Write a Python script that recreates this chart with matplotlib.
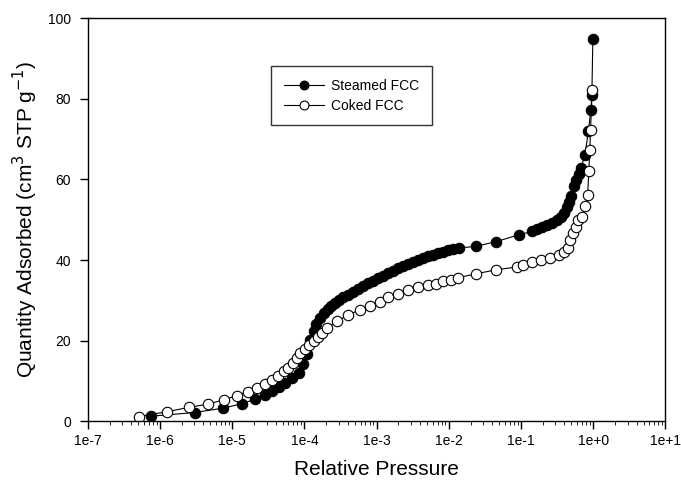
import matplotlib
matplotlib.use('Agg')
import matplotlib.pyplot as plt
import matplotlib.ticker as ticker
import numpy as np

plt.rcParams['font.family'] = ['Liberation Sans', 'DejaVu Sans']

# Steamed FCC (filled circles)
steamed_p = [7.6e-7, 3.04e-6, 7.5e-6, 1.38e-5, 2.06e-5, 2.81e-5, 3.56e-5, 4.42e-5,
             5.46e-5, 6.73e-5, 8.32e-5, 9.44e-5, 1.07e-4, 1.20e-4, 1.34e-4, 1.47e-4,
             1.62e-4, 1.84e-4, 2.09e-4, 2.37e-4, 2.69e-4, 3.05e-4, 3.47e-4, 4.06e-4,
             4.76e-4, 5.58e-4, 6.53e-4, 7.66e-4, 8.97e-4, 1.05e-3, 1.23e-3, 1.45e-3,
             1.69e-3, 1.99e-3, 2.32e-3, 2.72e-3, 3.19e-3, 3.74e-3, 4.39e-3, 5.14e-3,
             6.03e-3, 7.05e-3, 8.26e-3, 9.68e-3, 1.14e-2, 1.37e-2, 2.38e-2, 4.58e-2,
             9.42e-2, 0.144, 0.168, 0.197, 0.231, 0.271, 0.317, 0.36, 0.396, 0.436,
             0.465, 0.494, 0.538, 0.575, 0.63, 0.68, 0.77, 0.86, 0.93, 0.96, 0.99]
steamed_q = [1.3, 2.2, 3.3, 4.4, 5.5, 6.6, 7.6, 8.5,
             9.5, 10.7, 12.0, 14.3, 16.7, 20.2, 22.5, 24.2,
             25.7, 26.9, 27.9, 28.7, 29.4, 30.1, 30.8, 31.4,
             32.1, 32.9, 33.5, 34.2, 34.9, 35.5, 36.1, 36.7,
             37.3, 38.0, 38.6, 39.1, 39.6, 40.0, 40.4, 40.9,
             41.3, 41.7, 42.1, 42.4, 42.8, 43.0, 43.4, 44.6,
             46.3, 47.1, 47.8, 48.3, 48.8, 49.3, 50.0, 50.7, 51.7, 53.2,
             54.5, 56.0, 58.4, 59.8, 61.3, 62.9, 66.1, 72.0, 77.3, 81.0, 94.8]

# Coked FCC (open circles)
coked_p = [5.1e-7, 1.25e-6, 2.54e-6, 4.69e-6, 7.7e-6, 1.17e-5, 1.63e-5, 2.22e-5,
           2.83e-5, 3.56e-5, 4.31e-5, 5.16e-5, 5.93e-5, 6.87e-5, 7.89e-5, 8.77e-5,
           1.01e-4, 1.14e-4, 1.34e-4, 1.53e-4, 1.78e-4, 2.04e-4, 2.81e-4, 4.06e-4,
           5.89e-4, 8.09e-4, 1.11e-3, 1.45e-3, 1.99e-3, 2.72e-3, 3.74e-3, 5.14e-3,
           6.68e-3, 8.26e-3, 1.08e-2, 1.33e-2, 2.36e-2, 4.58e-2, 8.9e-2, 0.108,
           0.144, 0.191, 0.256, 0.335, 0.396, 0.443, 0.484, 0.52, 0.58, 0.62,
           0.69, 0.78, 0.84, 0.87, 0.90, 0.92, 0.97]
coked_q = [1.2, 2.4, 3.5, 4.3, 5.4, 6.4, 7.4, 8.2,
           9.2, 10.3, 11.3, 12.4, 13.3, 14.6, 15.7, 16.9,
           17.9, 19.0, 20.0, 21.0, 22.0, 23.1, 24.8, 26.4,
           27.7, 28.7, 29.7, 30.8, 31.6, 32.6, 33.4, 33.7,
           34.1, 34.7, 35.1, 35.6, 36.6, 37.6, 38.3, 38.8,
           39.5, 40.0, 40.5, 41.3, 41.9, 43.0, 45.0, 46.7, 48.3, 50.0,
           50.8, 53.3, 56.2, 62.0, 67.4, 72.3, 82.3]

fig = plt.figure(figsize=(6.81, 4.90), dpi=100)
ax = fig.add_axes([0.129, 0.140, 0.848, 0.823])

ax.plot(steamed_p, steamed_q, '-o', color='black', lw=0.8, ms=7.5,
        mfc='black', mec='black', mew=0.8, label='Steamed FCC')
ax.plot(coked_p, coked_q, '-o', color='black', lw=0.8, ms=7.5,
        mfc='white', mec='black', mew=0.8, label='Coked FCC')

ax.set_xscale('log')
ax.set_xlim(1e-7, 1e1)
ax.set_ylim(0, 100)
ax.xaxis.set_major_locator(ticker.LogLocator(base=10, numticks=20))
ax.xaxis.set_minor_locator(ticker.LogLocator(base=10, subs=np.arange(2, 10), numticks=20))
ax.xaxis.set_major_formatter(ticker.FuncFormatter(lambda v, pos: '1e%+d' % int(round(np.log10(v)))))
ax.xaxis.set_minor_formatter(ticker.NullFormatter())
ax.set_yticks([0, 20, 40, 60, 80, 100])

ax.tick_params(axis='both', which='major', direction='out', length=6, width=1, labelsize=10,
               top=False, right=False)
ax.tick_params(axis='x', which='minor', direction='out', length=3, width=0.6, top=False)
ax.tick_params(axis='x', pad=3)
ax.tick_params(axis='y', pad=6)
for s in ax.spines.values():
    s.set_linewidth(1.0)

ax.set_xlabel('Relative Pressure', fontsize=15, labelpad=9)
ax.set_ylabel('Quantity Adsorbed (cm$^3$ STP g$^{-1}$)', fontsize=15, labelpad=6)

leg = ax.legend(loc='upper left', bbox_to_anchor=(0.318, 0.881), borderaxespad=0,
                fontsize=10, frameon=True, fancybox=False, edgecolor='black',
                markerscale=0.85, handlelength=2.9, borderpad=0.9, labelspacing=0.45,
                handletextpad=0.5)
leg.get_frame().set_linewidth(1.0)

fig.savefig('out.png', dpi=100)
